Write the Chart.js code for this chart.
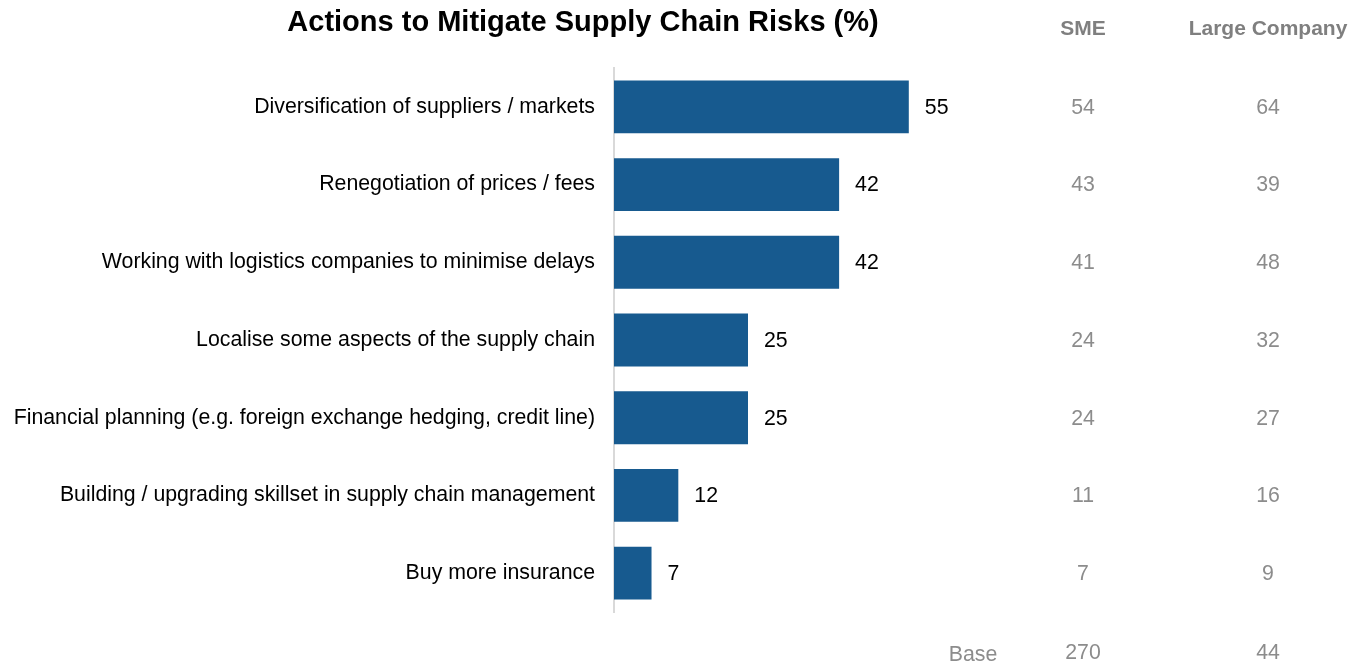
<!DOCTYPE html>
<html>
<head>
<meta charset="utf-8">
<script src="https://cdn.jsdelivr.net/npm/chart.js@4.4.1/dist/chart.umd.min.js"></script>
<style>
  html, body { margin: 0; padding: 0; background: #fff; }
  #wrap { position: relative; width: 1361px; height: 665px; }
</style>
</head>
<body>
<div id="wrap"><canvas id="chart" width="1361" height="665"></canvas></div>
<script>
const categories = [
  'Diversification of suppliers / markets',
  'Renegotiation of prices / fees',
  'Working with logistics companies to minimise delays',
  'Localise some aspects of the supply chain',
  'Financial planning (e.g. foreign exchange hedging, credit line)',
  'Building / upgrading skillset in supply chain management',
  'Buy more insurance'
];
const totalValues = [55, 42, 42, 25, 25, 12, 7];
const smeValues = [54, 43, 41, 24, 24, 11, 7];
const largeValues = [64, 39, 48, 32, 27, 16, 9];
const columnHeaders = ['SME', 'Large Company'];
const baseLabel = 'Base';
const baseValues = [270, 44];

const FONT = '"Liberation Sans", Arial, sans-serif';
const TEXT_SIZE = 21.3;

// value labels at the bar ends, plus the title and the SME / Large columns
const sidePanel = {
  id: 'sidePanel',
  afterDatasetsDraw(chart) {
    const ctx = chart.ctx;
    const y = chart.scales.y;
    const meta = chart.getDatasetMeta(0);
    const colX = [1083, 1268];

    ctx.save();
    ctx.textBaseline = 'middle';

    ctx.font = TEXT_SIZE + 'px ' + FONT;
    ctx.fillStyle = '#000';
    ctx.textAlign = 'left';
    meta.data.forEach((bar, i) => {
      ctx.fillText(String(totalValues[i]), bar.x + 16, bar.y + 1);
    });

    ctx.fillStyle = '#8c8c8c';
    ctx.textAlign = 'center';
    categories.forEach((c, i) => {
      const py = y.getPixelForValue(i) + 1;
      ctx.fillText(String(smeValues[i]), colX[0], py);
      ctx.fillText(String(largeValues[i]), colX[1], py);
    });

    ctx.fillText(baseLabel, 973, 655);
    ctx.fillText(String(baseValues[0]), colX[0], 653);
    ctx.fillText(String(baseValues[1]), colX[1], 653);

    ctx.font = 'bold 21px ' + FONT;
    ctx.fillStyle = '#7f7f7f';
    ctx.fillText(columnHeaders[0], colX[0], 29);
    ctx.fillText(columnHeaders[1], colX[1], 29);

    ctx.font = 'bold 29px ' + FONT;
    ctx.fillStyle = '#000';
    ctx.fillText('Actions to Mitigate Supply Chain Risks (%)', 583, 23);
    ctx.restore();
  }
};

new Chart(document.getElementById('chart'), {
  type: 'bar',
  data: {
    labels: categories,
    datasets: [{
      data: totalValues,
      backgroundColor: '#175a8f',
      borderWidth: 0,
      barPercentage: 0.68,
      categoryPercentage: 1.0
    }]
  },
  options: {
    indexAxis: 'y',
    responsive: false,
    animation: false,
    layout: { padding: { top: 68, bottom: 53, left: 0, right: 211 } },
    plugins: {
      legend: { display: false },
      tooltip: { enabled: false }
    },
    scales: {
      x: {
        display: false,
        min: 0,
        max: 100
      },
      y: {
        afterFit(scale) { scale.width = 614; },
        grid: { display: false, drawTicks: false },
        border: { display: true, color: '#d9d9d9', width: 2 },
        ticks: {
          padding: 19,
          color: '#000',
          font: { family: FONT, size: TEXT_SIZE }
        }
      }
    }
  },
  plugins: [sidePanel]
});
</script>
</body>
</html>
